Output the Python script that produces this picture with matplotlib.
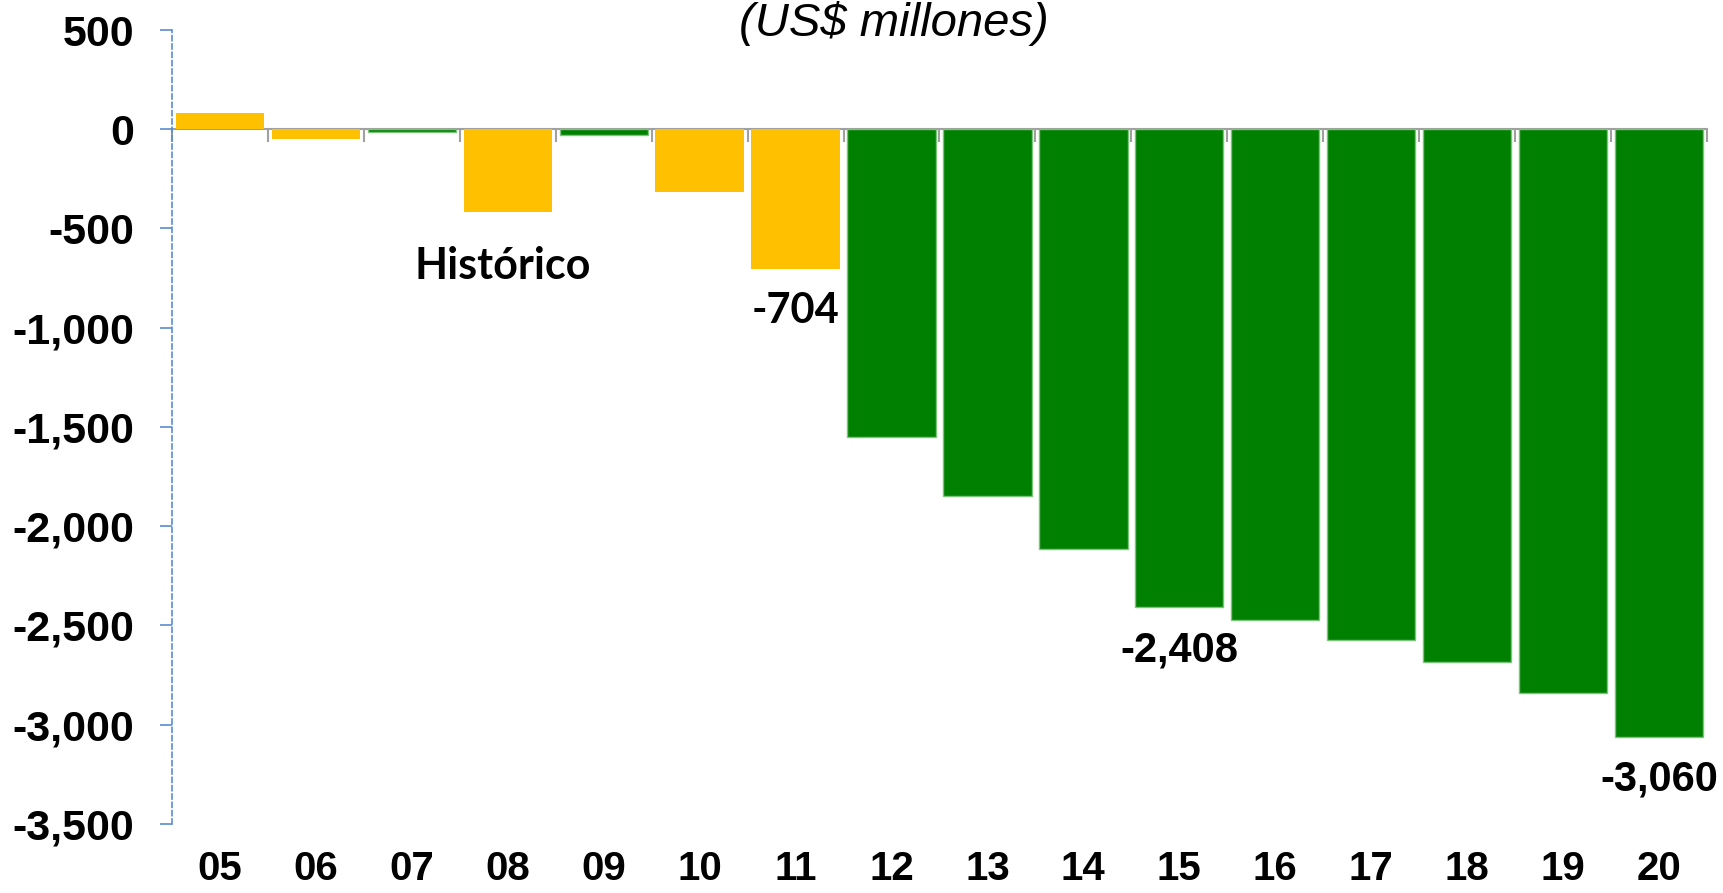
import matplotlib
matplotlib.use("Agg")
import matplotlib.pyplot as plt
from matplotlib.ticker import FuncFormatter

# data
years = ["05", "06", "07", "08", "09", "10", "11", "12",
         "13", "14", "15", "16", "17", "18", "19", "20"]
values = [81, -51, -16, -418, -31, -314, -704, -1548,
          -1850, -2115, -2408, -2471, -2571, -2682, -2838, -3060]
# bars drawn in orange (historic) vs green
historic = [True, True, False, True, False, True, True, False,
            False, False, False, False, False, False, False, False]
labelled = {6: "-704", 10: "-2,408", 15: "-3,060"}

ORANGE = "#FFC000"
GREEN = "#008000"
AXBLUE = "#5B8BD0"
GREY = "#A0A0A0"

fig = plt.figure(figsize=(17.23, 8.93), dpi=100)
ax = fig.add_axes([0.0998, 0.0773, 0.8909, 0.8891])

xs = list(range(len(years)))
for i, v in enumerate(values):
    if historic[i]:
        ax.bar(i, v, width=0.92, color=ORANGE, linewidth=0, zorder=2)
    else:
        ax.bar(i, v, width=0.92, color=GREEN, edgecolor="#7CC47C",
               linewidth=1, zorder=2)

ax.set_xlim(-0.5, len(years) - 0.5)
ax.set_ylim(-3500, 500)

# y axis: dashed blue line with outward ticks
ax.set_yticks(range(-3500, 501, 500))
ax.yaxis.set_major_formatter(FuncFormatter(lambda v, p: f"{v:,.0f}"))
for side in ["top", "right", "bottom"]:
    ax.spines[side].set_visible(False)
ax.spines["left"].set_color(AXBLUE)
ax.spines["left"].set_linestyle((0, (3, 2)))
ax.spines["left"].set_linewidth(1.2)
ax.tick_params(axis="y", direction="out", length=9, width=1.2, color=AXBLUE,
               pad=18)
for t in ax.get_yticklabels():
    t.set_fontfamily("Liberation Sans")
    t.set_fontweight("bold")
    t.set_fontsize(31)

# category labels at the bottom
ax.set_xticks(xs)
ax.set_xticklabels(years, fontfamily="Liberation Sans", fontweight="bold",
                   fontsize=29)
ax.tick_params(axis="x", length=0, pad=19)

# zero line with tick marks between categories
zero_pos = (0 - (-3500)) / 4000
sec = ax.secondary_xaxis(zero_pos)
sec.set_xticks([i - 0.5 for i in range(len(years) + 1)])
sec.tick_params(axis="x", direction="in", length=9, width=1.5, color=GREY,
                labeltop=False, labelbottom=False)
for s in sec.spines.values():
    s.set_color(GREY)
    s.set_linewidth(1.5)

# value labels
for i, txt in labelled.items():
    fam = "Lato" if i == 6 else "Liberation Sans"
    ax.annotate(txt, (i, values[i]), xytext=(0, -23), textcoords="offset pixels",
                ha="center", va="top", fontsize=30,
                fontweight="bold", fontfamily=fam)

ax.text(2.95, -687, "Histórico", ha="center", va="center", fontsize=31,
        fontweight="bold", fontfamily="Lato")

fig.text(894 / 1723, 1 - 23 / 893, "(US$ millones)", ha="center", va="center",
         fontsize=34, fontstyle="italic", fontfamily="Liberation Sans")

fig.savefig("out.png", dpi=100)
